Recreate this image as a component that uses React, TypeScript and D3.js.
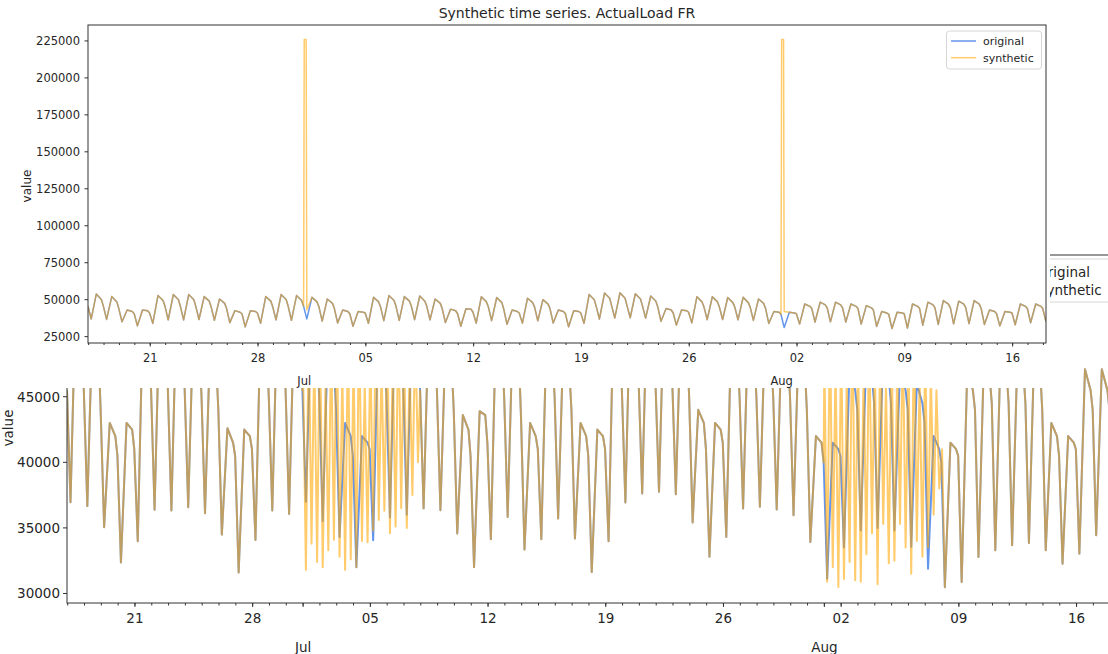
import React, { useEffect, useRef } from "react";
import * as d3 from "d3";

type Pt = { date: Date; value: number };

const titleText = "Synthetic time series. ActualLoad FR";
const seriesNames = ["original", "synthetic"];
const seriesColors = ["#6495ed", "#ffa500"];
const synthOpacity = 0.58;

const topYTicks = [25000, 50000, 75000, 100000, 125000, 150000, 175000, 200000, 225000];
// only the ticks of the lower figure that are not hidden by the upper one
const bottomYTicks = [30000, 35000, 40000, 45000];

// hourly load, one value per day (first day 2021-06-17)
const lateBefore = 45500; // 2021-06-16 23:00
// 04:00
const nightLow = [
  36960, 36660, 35050, 32370, 33980, 36380, 36330, 36580, 36120, 34490, 31600, 34080, 36330, 36070,
  37000, 35500, 34300, 32000, 34060, 35800, 36000, 36490, 36350, 34570, 32010, 34130, 35840, 33350,
  34130, 35720, 34190, 31630, 33980, 36940, 37630, 37760, 37560, 35410, 32800, 34310, 36480, 36610,
  36400, 35970, 33930,
  31120, 33500, 34800, 35000, 34800, 33550, 31890, 30480, 30870, 32780, 33290, 33670, 33850, 33290,
  32270, 33040, 34440, 35000,
];
// 12:00
const middayPeak = [
  53900, 52100, 43000, 43000, 52800, 53500, 53500, 52100, 50500, 42600, 42500, 52100, 53500, 52800,
  51600, 50500, 43000, 42000, 51600, 52800, 52100, 52500, 50500, 43600, 43900, 52000, 51500, 43000,
  51000, 50000, 43000, 42500, 53500, 54500, 54600, 54000, 52500, 44000, 43000, 52000, 52000, 51500,
  51600, 50500, 42000,
  41500, 47100, 48300, 48300, 47100, 46000, 42000, 41500, 47100, 48300, 49400, 49000, 49400, 43000,
  42000, 47100, 47100,
];
// 20:00
const eveningLoad = [
  50000, 48500, 42000, 42500, 49500, 50000, 50000, 49000, 47500, 41500, 42000, 49000, 50000, 49500,
  48500, 47500, 42000, 41500, 48500, 49500, 49000, 49000, 47500, 42500, 43600, 48500, 48000, 42000,
  48000, 47000, 42000, 42000, 50000, 51000, 51000, 50500, 49000, 43000, 42500, 48500, 48500, 48000,
  48000, 47500, 41500,
  41000, 45500, 46500, 46500, 45500, 44500, 41000, 41000, 45500, 46500, 47000, 47000, 47000, 42000,
  41500, 45500, 45500,
];
// 23:00
const lateLoad = [
  45500, 44000, 40500, 41000, 45500, 45500, 45500, 45000, 44000, 40500, 41000, 45000, 45500, 45500,
  45000, 44000, 40500, 41000, 45000, 45500, 45500, 45500, 44000, 40500, 41500, 45000, 43500, 41000,
  45000, 44000, 40500, 41000, 45500, 46000, 46000, 46000, 45000, 41000, 41500, 45000, 45000, 45000,
  45000, 44000, 40000,
  40500, 44000, 44500, 44500, 44000, 43000, 40000, 40500, 44000, 44500, 44500, 44500, 44000, 40500,
  41000, 44000, 44000,
];

// upper panel synthetic: spikes replacing the original values
const spikeEdits: [string, number][] = [
  ["2021-07-01T00:00", 226000],
  ["2021-07-01T03:00", 226000],
  ["2021-07-01T04:00", 43000],
  ["2021-08-01T00:00", 226000],
  ["2021-08-01T03:00", 226000],
  ["2021-08-01T04:00", 42000],
];

// lower panel synthetic: noisy stretches, one value every 4 hours
const noiseStepHours = 4;
const noiseJul = [
  47000, 31800, 50500, 33800, 48500, 32400,
  51000, 32000, 46500, 33300, 49500, 34100,
  52000, 32800, 47000, 31800, 50000, 32600,
  48000, 32000, 51500, 34000, 46000, 33900,
  49000, 34800, 52500, 35600, 47500, 36300,
  50500, 34600, 48000, 35100, 51000, 36500,
  49500, 35000, 47500, 37500, 50000, 40000,
];
const noiseAug = [
  48000, 30900, 51000, 32000, 47500, 30500,
  50000, 31100, 46500, 32400, 52000, 31000,
  49000, 30900, 47000, 33000, 50500, 34600,
  48500, 30700, 51500, 35300, 46000, 32300,
  49500, 32500, 47500, 35300, 50000, 33500,
  48000, 31500, 51000, 34000, 46500, 32800,
  49000, 33500, 47000, 36000, 45500, 38000,
  41000,
];
const noiseStarts = ["2021-07-01T00:00", "2021-08-01T00:00"];

const parse = d3.timeParse("%Y-%m-%dT%H:%M");
const firstDay = parse("2021-06-17T00:00") as Date;
const at = (day: number, hour: number) =>
  d3.timeHour.offset(d3.timeDay.offset(firstDay, day), hour);

const original: Pt[] = [{ date: at(-1, 23), value: lateBefore }];
nightLow.forEach((low, i) => {
  original.push({ date: at(i, 4), value: low });
  if (i < middayPeak.length) {
    original.push({ date: at(i, 12), value: middayPeak[i] });
    original.push({ date: at(i, 20), value: eveningLoad[i] });
    original.push({ date: at(i, 23), value: lateLoad[i] });
  }
});

const byDate = (a: Pt, b: Pt) => +a.date - +b.date;

const syntheticTop: Pt[] = (() => {
  const m = new Map(original.map((p) => [+p.date, p.value]));
  spikeEdits.forEach(([t, v]) => m.set(+(parse(t) as Date), v));
  return Array.from(m, ([t, v]) => ({ date: new Date(t), value: v })).sort(byDate);
})();

const syntheticBottom: Pt[] = (() => {
  const windows = [noiseJul, noiseAug].map((vals, k) =>
    vals.map((v, i) => ({
      date: d3.timeHour.offset(parse(noiseStarts[k]) as Date, i * noiseStepHours),
      value: v,
    }))
  );
  const outside = original.filter(
    (p) => !windows.some((w) => p.date >= w[0].date && p.date <= w[w.length - 1].date)
  );
  return outside.concat(...windows).sort(byDate);
})();

const font = "DejaVu Sans, sans-serif";
const ink = "#262626";
const spine = "#333";

function drawPanel(root: any, cfg: any) {
  const g = root.append("g");
  const x = d3
    .scaleTime()
    .domain(d3.extent(original, (d) => d.date) as [Date, Date])
    .range([cfg.left, cfg.right]);
  const all = original.concat(cfg.synthetic);
  const [lo, hi] = d3.extent(all, (d) => d.value) as [number, number];
  const pad = (hi - lo) * 0.05;
  const y = d3.scaleLinear().domain([lo - pad, hi + pad]).range([cfg.bottom, cfg.top]);

  g.append("clipPath")
    .attr("id", cfg.id)
    .append("rect")
    .attr("x", cfg.left)
    .attr("y", cfg.top)
    .attr("width", cfg.right - cfg.left)
    .attr("height", cfg.bottom - cfg.top);

  const line = d3
    .line<Pt>()
    .x((d) => x(d.date))
    .y((d) => y(d.value));

  const lines = g.append("g").attr("clip-path", `url(#${cfg.id})`);
  [original, cfg.synthetic].forEach((data: Pt[], i: number) => {
    lines
      .append("path")
      .datum(data)
      .attr("fill", "none")
      .attr("stroke", seriesColors[i])
      .attr("stroke-opacity", i === 1 ? synthOpacity : 1)
      .attr("stroke-width", cfg.lineWidth)
      .attr("stroke-linejoin", "round")
      .attr("d", line);
  });

  // frame
  g.append("rect")
    .attr("x", cfg.left)
    .attr("y", cfg.top)
    .attr("width", cfg.right - cfg.left)
    .attr("height", cfg.bottom - cfg.top)
    .attr("fill", "none")
    .attr("stroke", spine)
    .attr("stroke-width", 1);

  // y axis
  cfg.yTicks.forEach((t: number) => {
    const yy = y(t);
    g.append("line")
      .attr("x1", cfg.left - cfg.tickLen)
      .attr("x2", cfg.left)
      .attr("y1", yy)
      .attr("y2", yy)
      .attr("stroke", spine);
    g.append("text")
      .attr("x", cfg.yLabelEnd)
      .attr("y", yy + cfg.tickFont * 0.36)
      .attr("text-anchor", "end")
      .attr("font-size", cfg.tickFont)
      .attr("font-family", font)
      .attr("fill", ink)
      .text(String(t));
  });
  g.append("text")
    .attr("transform", `translate(${cfg.yTitleX},${cfg.yTitleY}) rotate(-90)`)
    .attr("text-anchor", "middle")
    .attr("font-size", cfg.labelFont)
    .attr("font-family", font)
    .attr("fill", ink)
    .text("value");

  // x axis: days minor, Mondays and month starts major
  const [d0, d1] = x.domain();
  d3.timeDay.range(d0, d1).forEach((d) => {
    g.append("line")
      .attr("x1", x(d))
      .attr("x2", x(d))
      .attr("y1", cfg.bottom)
      .attr("y2", cfg.bottom + cfg.minorLen)
      .attr("stroke", spine);
  });
  const mondays = d3.timeMonday.range(d0, d1);
  const months = d3.timeMonth.range(d0, d1);
  mondays.concat(months).forEach((d) => {
    g.append("line")
      .attr("x1", x(d))
      .attr("x2", x(d))
      .attr("y1", cfg.bottom)
      .attr("y2", cfg.bottom + cfg.tickLen)
      .attr("stroke", spine);
  });
  mondays.forEach((d) => {
    g.append("text")
      .attr("x", x(d))
      .attr("y", cfg.dayBase)
      .attr("text-anchor", "middle")
      .attr("font-size", cfg.tickFont)
      .attr("font-family", font)
      .attr("fill", ink)
      .text(d3.timeFormat("%d")(d));
  });
  months.forEach((d) => {
    g.append("text")
      .attr("x", x(d))
      .attr("y", cfg.monthBase)
      .attr("text-anchor", "middle")
      .attr("font-size", cfg.tickFont)
      .attr("font-family", font)
      .attr("fill", ink)
      .text(d3.timeFormat("%b")(d));
  });

  // legend
  const lg = cfg.legend;
  g.append("rect")
    .attr("x", lg.x)
    .attr("y", lg.y)
    .attr("width", lg.w)
    .attr("height", lg.h)
    .attr("rx", 3)
    .attr("fill", "white")
    .attr("fill-opacity", 0.85)
    .attr("stroke", "#d6d6d6");
  seriesNames.forEach((name, i) => {
    const ly = lg.rows[i];
    g.append("line")
      .attr("x1", lg.sx0)
      .attr("x2", lg.sx1)
      .attr("y1", ly)
      .attr("y2", ly)
      .attr("stroke", seriesColors[i])
      .attr("stroke-opacity", i === 1 ? synthOpacity : 1)
      .attr("stroke-width", cfg.lineWidth);
    g.append("text")
      .attr("x", lg.tx)
      .attr("y", ly + lg.font * 0.36)
      .attr("font-size", lg.font)
      .attr("font-family", font)
      .attr("fill", ink)
      .text(name);
  });
}

export default function App() {
  const svgRef = useRef<SVGSVGElement>(null);

  useEffect(() => {
    const svg = d3.select(svgRef.current);
    svg.selectAll("*").remove();
    svg.append("rect").attr("width", 1108).attr("height", 654).attr("fill", "white");

    // lower figure (partly covered by the upper one)
    drawPanel(svg, {
      id: "clip-bottom",
      left: 67,
      right: 1113,
      top: 255,
      bottom: 603,
      synthetic: syntheticBottom,
      yTicks: bottomYTicks,
      tickFont: 13.5,
      labelFont: 13.5,
      lineWidth: 2,
      tickLen: 4,
      minorLen: 2.5,
      yLabelEnd: 60,
      yTitleX: 13,
      yTitleY: 428,
      dayBase: 623,
      monthBase: 652,
      legend: { x: 995, y: 259, w: 116, h: 43, rows: [271.7, 290.3], sx0: 1001, sx1: 1030, tx: 1039.5, font: 13.5 },
    });
    svg
      .append("text")
      .attr("x", 552)
      .attr("y", 665)
      .attr("text-anchor", "middle")
      .attr("font-size", 14.5)
      .attr("font-family", font)
      .attr("fill", ink)
      .text(titleText);

    // upper figure
    svg.append("rect").attr("width", 1050).attr("height", 388).attr("fill", "white");
    drawPanel(svg, {
      id: "clip-top",
      left: 88,
      right: 1046,
      top: 25,
      bottom: 343,
      synthetic: syntheticTop,
      yTicks: topYTicks,
      tickFont: 11.5,
      labelFont: 12,
      lineWidth: 1.5,
      tickLen: 3.5,
      minorLen: 2,
      yLabelEnd: 80,
      yTitleX: 31,
      yTitleY: 186,
      dayBase: 361.5,
      monthBase: 385,
      legend: { x: 946.5, y: 31, w: 95, h: 38, rows: [41, 57.7], sx0: 951, sx1: 976, tx: 983, font: 11 },
    });
    svg
      .append("text")
      .attr("x", 567)
      .attr("y", 18)
      .attr("text-anchor", "middle")
      .attr("font-size", 14)
      .attr("font-family", font)
      .attr("fill", ink)
      .text(titleText);
  }, []);

  return (
    <svg
      ref={svgRef}
      width={1108}
      height={654}
      style={{ position: "absolute", left: 0, top: 0, display: "block" }}
    ></svg>
  );
}
